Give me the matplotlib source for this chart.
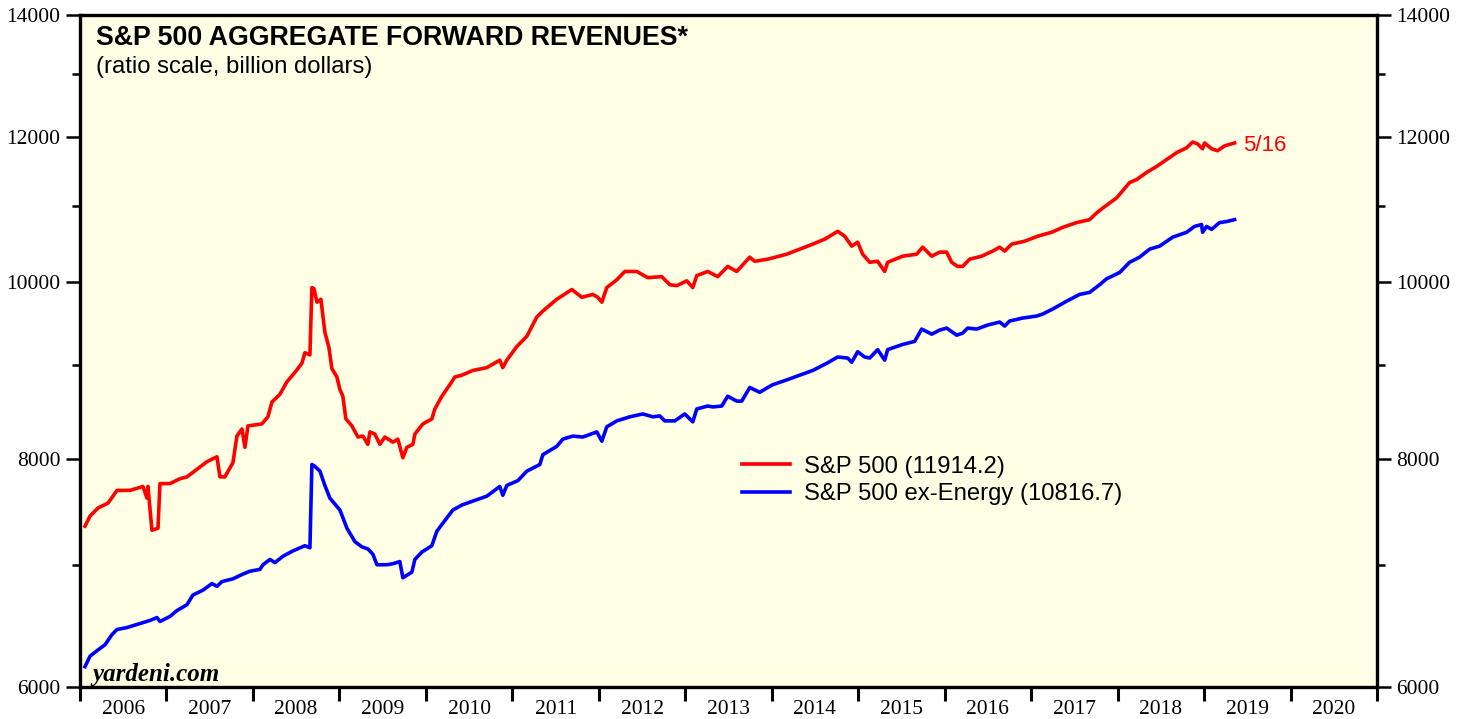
import matplotlib
matplotlib.use("Agg")
import matplotlib.pyplot as plt
from matplotlib.ticker import NullFormatter

# values (decimal year, billion dollars)
sp500_dates = [
    2006.058, 2006.116, 2006.208, 2006.324, 2006.428, 2006.578, 2006.728, 2006.775, 2006.786, 2006.832,
    2006.902, 2006.925, 2007.040, 2007.156, 2007.237, 2007.353, 2007.468, 2007.584, 2007.618, 2007.676,
    2007.769, 2007.815, 2007.873, 2007.908, 2007.942, 2008.104, 2008.173, 2008.220, 2008.312, 2008.393,
    2008.486, 2008.566, 2008.601, 2008.659, 2008.682, 2008.705, 2008.740, 2008.786, 2008.832, 2008.879,
    2008.913, 2008.971, 2009.006, 2009.040, 2009.075, 2009.145, 2009.214, 2009.272, 2009.329, 2009.353,
    2009.410, 2009.468, 2009.526, 2009.618, 2009.676, 2009.734, 2009.780, 2009.850, 2009.873, 2009.965,
    2010.069, 2010.104, 2010.185, 2010.277, 2010.335, 2010.416, 2010.543, 2010.705, 2010.855, 2010.890,
    2010.936, 2011.052, 2011.168, 2011.283, 2011.353, 2011.514, 2011.688, 2011.803, 2011.931, 2011.988,
    2012.035, 2012.092, 2012.208, 2012.301, 2012.439, 2012.566, 2012.728, 2012.821, 2012.902, 2013.017,
    2013.087, 2013.133, 2013.260, 2013.376, 2013.491, 2013.595, 2013.746, 2013.803, 2013.954, 2014.173,
    2014.324, 2014.474, 2014.613, 2014.763, 2014.844, 2014.925, 2014.994, 2015.052, 2015.133, 2015.225,
    2015.306, 2015.341, 2015.514, 2015.676, 2015.746, 2015.850, 2015.942, 2016.023, 2016.081, 2016.150,
    2016.208, 2016.289, 2016.428, 2016.555, 2016.636, 2016.694, 2016.775, 2016.925, 2017.075, 2017.237,
    2017.364, 2017.526, 2017.676, 2017.757, 2017.827, 2017.988, 2018.139, 2018.220, 2018.335, 2018.451,
    2018.566, 2018.682, 2018.798, 2018.867, 2018.925, 2018.983, 2019.006, 2019.087, 2019.156, 2019.237,
    2019.353,
]
sp500_values = [
    7349, 7443, 7519, 7566, 7688, 7688, 7726, 7613, 7726, 7311,
    7330, 7754, 7754, 7802, 7820, 7896, 7971, 8021, 7820, 7820,
    7962, 8233, 8307, 8117, 8339, 8360, 8435, 8594, 8678, 8816,
    8922, 9024, 9145, 9120, 9928, 9916, 9747, 9783, 9386, 9205,
    8965, 8869, 8731, 8657, 8413, 8339, 8223, 8233, 8148, 8276,
    8254, 8148, 8223, 8170, 8201, 8011, 8117, 8148, 8254, 8360,
    8413, 8519, 8657, 8784, 8869, 8890, 8943, 8975, 9060, 8975,
    9060, 9217, 9337, 9566, 9639, 9783, 9904, 9807, 9843, 9807,
    9747, 9928, 10026, 10132, 10132, 10053, 10066, 9964, 9952, 10013,
    9928, 10079, 10132, 10066, 10197, 10132, 10316, 10263, 10290, 10355,
    10421, 10487, 10553, 10658, 10592, 10461, 10513, 10355, 10250, 10263,
    10132, 10250, 10329, 10355, 10447, 10329, 10382, 10382, 10250, 10197,
    10197, 10290, 10329, 10395, 10447, 10395, 10487, 10526, 10592, 10645,
    10711, 10776, 10816, 10908, 10974, 11116, 11334, 11377, 11479, 11566,
    11667, 11769, 11841, 11928, 11899, 11827, 11914, 11827, 11798, 11870,
    11914.2,
]

exenergy_dates = [
    2006.058, 2006.116, 2006.208, 2006.289, 2006.370, 2006.428, 2006.543, 2006.659, 2006.809, 2006.890,
    2006.925, 2007.040, 2007.121, 2007.237, 2007.306, 2007.422, 2007.526, 2007.584, 2007.642, 2007.769,
    2007.884, 2007.965, 2008.081, 2008.116, 2008.197, 2008.254, 2008.347, 2008.462, 2008.601, 2008.659,
    2008.682, 2008.717, 2008.775, 2008.832, 2008.890, 2009.006, 2009.087, 2009.179, 2009.260, 2009.329,
    2009.387, 2009.434, 2009.549, 2009.618, 2009.699, 2009.734, 2009.838, 2009.873, 2009.954, 2010.069,
    2010.127, 2010.197, 2010.312, 2010.416, 2010.543, 2010.705, 2010.855, 2010.890, 2010.936, 2011.064,
    2011.168, 2011.318, 2011.353, 2011.514, 2011.584, 2011.699, 2011.815, 2011.977, 2012.035, 2012.092,
    2012.208, 2012.358, 2012.509, 2012.624, 2012.705, 2012.763, 2012.879, 2012.994, 2013.087, 2013.133,
    2013.260, 2013.318, 2013.422, 2013.491, 2013.595, 2013.653, 2013.746, 2013.861, 2013.954, 2014.012,
    2014.173, 2014.324, 2014.474, 2014.636, 2014.763, 2014.879, 2014.925, 2014.994, 2015.075, 2015.133,
    2015.225, 2015.306, 2015.341, 2015.514, 2015.653, 2015.734, 2015.850, 2015.942, 2016.023, 2016.139,
    2016.208, 2016.266, 2016.370, 2016.497, 2016.636, 2016.694, 2016.751, 2016.902, 2017.064, 2017.133,
    2017.249, 2017.410, 2017.561, 2017.676, 2017.792, 2017.873, 2018.023, 2018.139, 2018.254, 2018.370,
    2018.486, 2018.636, 2018.798, 2018.890, 2018.971, 2018.983, 2019.029, 2019.087, 2019.179, 2019.260,
    2019.353,
]
exenergy_values = [
    6156, 6238, 6287, 6328, 6410, 6451, 6467, 6492, 6525, 6549,
    6517, 6558, 6607, 6656, 6738, 6779, 6836, 6812, 6853, 6877,
    6918, 6943, 6959, 7000, 7047, 7019, 7075, 7123, 7170, 7151,
    7943, 7924, 7877, 7736, 7613, 7500, 7330, 7207, 7160, 7141,
    7094, 7000, 7000, 7009, 7028, 6886, 6935, 7047, 7113, 7170,
    7302, 7377, 7500, 7547, 7585, 7632, 7726, 7641, 7736, 7783,
    7877, 7943, 8042, 8127, 8201, 8233, 8223, 8276, 8180, 8329,
    8392, 8435, 8466, 8435, 8445, 8392, 8392, 8466, 8382, 8519,
    8551, 8541, 8551, 8657, 8604, 8604, 8753, 8700, 8753, 8784,
    8837, 8890, 8943, 9024, 9096, 9084, 9036, 9157, 9096, 9084,
    9181, 9060, 9181, 9241, 9277, 9422, 9362, 9410, 9434, 9350,
    9374, 9434, 9422, 9470, 9506, 9458, 9518, 9554, 9578, 9602,
    9663, 9759, 9843, 9868, 9964, 10039, 10118, 10250, 10316, 10421,
    10461, 10579, 10645, 10724, 10750, 10645, 10724, 10684, 10776, 10790,
    10816.7,
]

years = list(range(2006, 2021))
y_major = [6000, 8000, 10000, 12000, 14000]
y_minor = [7000, 9000, 11000, 13000]

plt.rcParams['font.family'] = ['Liberation Serif', 'DejaVu Serif']
sans = ['Liberation Sans', 'DejaVu Sans']

W, H = 1468, 719
fig = plt.figure(figsize=(W / 100, H / 100), dpi=100)
ax = fig.add_axes([80 / W, 1 - 687 / H, (1377 - 80) / W, (687 - 15) / H])
ax.set_facecolor('#ffffe5')

ax.plot(sp500_dates, sp500_values, color='#ff0000', lw=2.6,
        label=f'S&P 500 ({sp500_values[-1]:.1f})')
ax.plot(exenergy_dates, exenergy_values, color='#0000ff', lw=2.6,
        label=f'S&P 500 ex-Energy ({exenergy_values[-1]:.1f})')

ax.set_yscale('log')
ax.set_ylim(6000, 14000)
ax.set_xlim(2006, 2021)

ax.set_yticks(y_major, labels=[str(v) for v in y_major])
ax.set_yticks(y_minor, minor=True)
ax.yaxis.set_minor_formatter(NullFormatter())
ax.tick_params(axis='y', which='both', direction='out', left=True, right=True,
               labelleft=True, labelright=True, width=1.8, labelsize=15.5, pad=4)
ax.tick_params(axis='y', which='major', length=10)
ax.tick_params(axis='y', which='minor', length=6)

ax.set_xticks(list(range(2006, 2022)), labels=[''] * 16)
ax.set_xticks([y + 0.5 for y in years], minor=True, labels=[str(y) for y in years])
ax.tick_params(axis='x', which='major', direction='out', length=10, width=2.2)
ax.tick_params(axis='x', which='minor', length=0, labelsize=15.5, pad=9)

for s in ax.spines.values():
    s.set_linewidth(2.4)

ax.text(0.012, 0.966, 'S&P 500 AGGREGATE FORWARD REVENUES*', transform=ax.transAxes,
        family=sans, fontsize=19.3, fontweight='bold', va='center')
ax.text(0.012, 0.922, '(ratio scale, billion dollars)', transform=ax.transAxes,
        family=sans, fontsize=17.2, va='center')

ax.annotate('5/16', (sp500_dates[-1], sp500_values[-1]), xytext=(6, -1.5),
            textcoords='offset points', color='#ff0000', family=sans,
            fontsize=16, va='center')

ax.text(0.010, 0.018, 'yardeni.com', transform=ax.transAxes, fontsize=18,
        fontweight='bold', style='italic', va='center')

ax.legend(loc='upper left', bbox_to_anchor=(0.5104, 0.344), frameon=False,
          prop={'family': sans, 'size': 17.2}, handlelength=2.0, handletextpad=0.6,
          labelspacing=0.22, borderpad=0, borderaxespad=0)

fig.savefig('out.png', dpi=100)
